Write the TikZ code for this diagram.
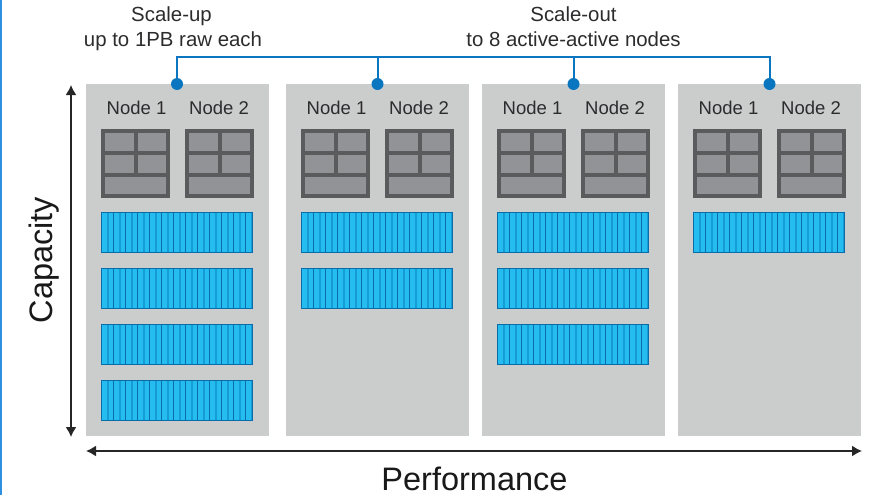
\documentclass[tikz,border=0pt]{standalone}
\usepackage{fontspec}
\setmainfont{Liberation Sans}
\usetikzlibrary{arrows.meta}
\definecolor{panelgray}{HTML}{CBCCCC}
\definecolor{srvdark}{HTML}{5A5B5D}
\definecolor{srvfill}{HTML}{929396}
\definecolor{linkblue}{HTML}{0B76C0}
\definecolor{diskfill}{HTML}{25BCF0}
\definecolor{diskmid}{HTML}{159CD4}
\definecolor{diskline}{HTML}{0B6CA8}
\definecolor{edgeblue}{HTML}{2F8FE0}
\definecolor{txt}{HTML}{2C2C2E}
\tikzset{
  x=1pt,y=-1pt,
  panel/.style={draw=none,fill=panelgray,minimum width=183pt,minimum height=352pt,inner sep=0pt,outer sep=0pt},
  dot/.style={circle,fill=linkblue,minimum size=12pt,inner sep=0pt,outer sep=0pt},
  link/.style={draw=linkblue,line width=2pt},
  axis/.style={draw=black!85,line width=1.6pt,{Latex[length=10pt,width=11pt]}-{Latex[length=10pt,width=11pt]}},
  lab/.style={font=\fontsize{18.5}{22}\selectfont,text=txt,inner sep=0pt,anchor=base},
  toplab/.style={font=\fontsize{20.4}{24}\selectfont,text=txt,inner sep=0pt,anchor=base},
  big/.style={font=\fontsize{32.5}{34}\selectfont,text=black!90,inner sep=0pt,anchor=base},
  srvcell/.style={fill=srvfill,draw=none},
}
\newcommand{\srvblock}[1]{%
  \fill[srvdark] (#1,129) rectangle ++(69,69);
  \fill[srvcell] (#1+4,133) rectangle ++(29,18);
  \fill[srvcell] (#1+37,133) rectangle ++(28,18);
  \fill[srvcell] (#1+4,155) rectangle ++(29,18);
  \fill[srvcell] (#1+37,155) rectangle ++(28,18);
  \fill[srvcell] (#1+4,177) rectangle ++(61,17);
}
\newcommand{\diskrow}[2]{%
  \fill[diskfill] (#1,#2) rectangle ++(152,41);
  \foreach \k in {0,...,12}{
    \fill[diskmid] (#1+\k*12+5.5,#2) rectangle ++(2.5,41);
    \draw[diskline,line width=1pt] (#1+\k*12,#2) -- ++(0,41);
  }
  \draw[diskline,line width=1.1pt] (#1+.5,#2+.5) rectangle ++(151,40);
}
\newcommand{\nodepair}[1]{%
  \node[lab] at (#1+50.5,114.5) {Node 1};
  \node[lab] at (#1+133,114.5) {Node 2};
  \srvblock{#1+15}
  \srvblock{#1+99}
}
\begin{document}
\begin{tikzpicture}
\useasboundingbox (0,0) rectangle (877,495);
\fill[white] (0,0) rectangle (877,495);
\fill[edgeblue] (0,0) rectangle (2,495);

\node[panel,anchor=north west] (p1) at (86,84) {};
\node[panel,anchor=north west] (p2) at (286,84) {};
\node[panel,anchor=north west] (p3) at (482,84) {};
\node[panel,anchor=north west] (p4) at (678,84) {};

\nodepair{86}
\nodepair{286}
\nodepair{482}
\nodepair{678}

\diskrow{101}{212}
\diskrow{101}{268}
\diskrow{101}{324}
\diskrow{101}{380}
\diskrow{301}{212}
\diskrow{301}{268}
\diskrow{497}{212}
\diskrow{497}{268}
\diskrow{497}{324}
\diskrow{693}{212}

\node[dot] (d1) at (177,84) {};
\node[dot] (d2) at (377.5,84) {};
\node[dot] (d3) at (573.5,84) {};
\node[dot] (d4) at (769.5,84) {};
\coordinate (bus) at (769.5,57);
\draw[link] (d1.center) |- (bus) -- (d4.center);
\draw[link] (d2.center) -- (d2.center |- bus);
\draw[link] (d3.center) -- (d3.center |- bus);

\node[toplab] (t1) at (171.5,22) {Scale-up};
\node[toplab] (t2) at (173,46.5) {up to 1PB raw each};
\node[toplab] (t3) at (573.5,22) {Scale-out};
\node[toplab] (t4) at (573.5,46.5) {to 8 active-active nodes};

\coordinate (capT) at (71,85);
\coordinate (capB) at (71,437);
\draw[axis] (capT) -- (capB);
\coordinate (perfL) at (86,451);
\coordinate (perfR) at (862,451);
\draw[axis] (perfL) -- (perfR);

\node[big,rotate=90] (cap) at (52.7,260) {Capacity};
\node[big] (perf) at (474.5,490.7) {Performance};
\end{tikzpicture}
\end{document}
